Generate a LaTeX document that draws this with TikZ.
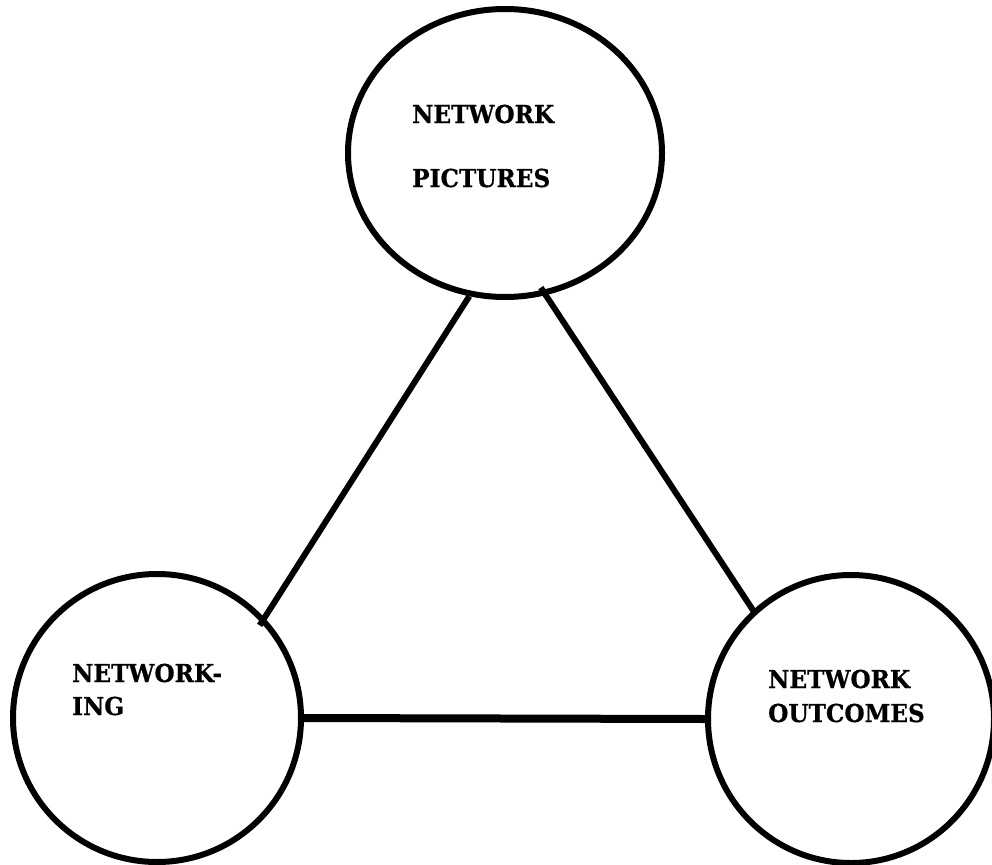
\documentclass[tikz,border=0pt]{standalone}
\usepackage{fontspec}
\newfontfamily\lblfont[FakeStretch=0.94,FakeBold=0.6]{DejaVu Serif}
\usetikzlibrary{shapes.geometric}
\begin{document}
\begin{tikzpicture}[x=1pt,y=-1pt,
  bubble/.style={draw=black,line width=6pt,ellipse,inner sep=0pt},
  link/.style={draw=black,line width=6pt},
  label/.style={inner sep=0pt,anchor=base west,font=\lblfont\bfseries\fontsize{24.7}{30}\selectfont}]
\useasboundingbox (0,0) rectangle (992,864);
\node[bubble,minimum width=314pt,minimum height=288pt] (top) at (505,153) {};
\node[bubble,minimum width=288pt,minimum height=288pt] (left) at (157,718) {};
\node[bubble,minimum width=286pt,minimum height=288pt] (right) at (851,719) {};
\node[label] (t1) at (412,123) {NETWORK};
\node[label] (t2) at (412,187) {PICTURES};
\node[label] (l1) at (72,682) {NETWORK-};
\node[label] (l2) at (72,715) {ING};
\node[label] (r1) at (768,688) {NETWORK};
\node[label] (r2) at (768,722) {OUTCOMES};
\draw[link,shorten >=-9pt] (top.256) -- (left.43);
\draw[link,shorten <=-9pt,shorten >=-5pt] (top.286) -- (right.132);
\draw[link,line width=8pt] (left.east) -- (right.west);
\end{tikzpicture}
\end{document}
